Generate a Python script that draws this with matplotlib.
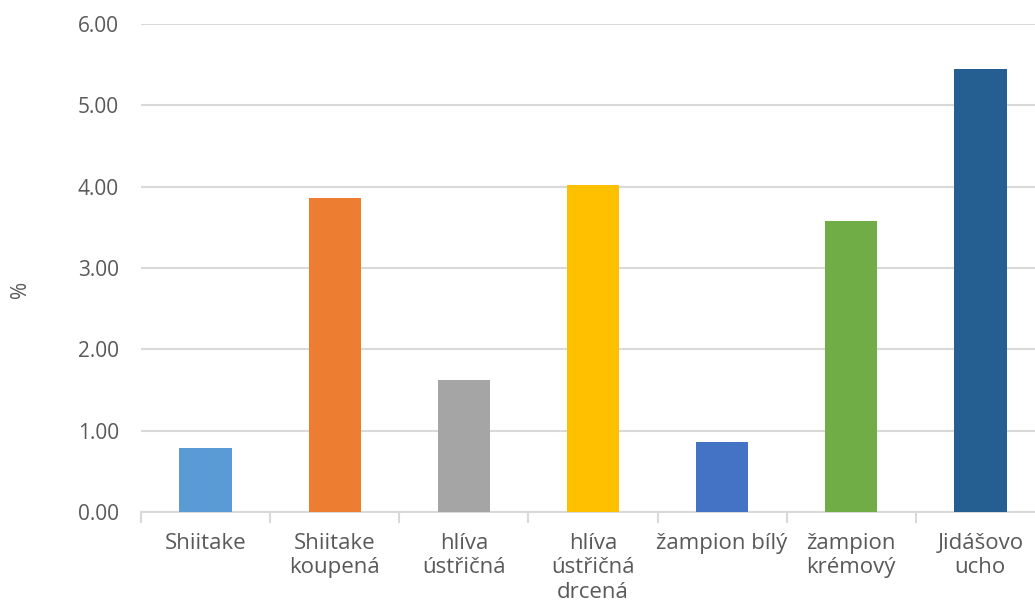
import matplotlib.pyplot as plt
from matplotlib.ticker import FixedLocator, NullFormatter

# mushroom samples and measured content (%)
categories = ['Shiitake', 'Shiitake\nkoupená', 'hlíva\nústřičná', 'hlíva\nústřičná\ndrcená',
              'žampion bílý', 'žampion\nkrémový', 'Jidášovo\nucho']
values = [0.79, 3.86, 1.62, 4.02, 0.86, 3.58, 5.45]
colors = ['#5B9BD5', '#ED7D31', '#A5A5A5', '#FFC000', '#4472C4', '#70AD47', '#255E91']
y_ticks = [0, 1, 2, 3, 4, 5, 6]

plt.rcParams['font.family'] = ['Open Sans', 'DejaVu Sans']
text_color = '#595959'
grid_color = '#D9D9D9'
fs = 15

fig = plt.figure(figsize=(10.35, 6.09), dpi=100)
ax = fig.add_axes([0.1362, 0.1593, 0.8734, 0.8013])

x = range(len(categories))
ax.bar(x, values, width=0.405, color=colors, zorder=3)

ax.set_xlim(-0.5, len(categories) - 0.5)
ax.set_ylim(0, 6)
ax.set_yticks(y_ticks)
ax.set_yticklabels(['%.2f' % v for v in y_ticks])
ax.yaxis.grid(True, color=grid_color, linewidth=1.5, zorder=0)
ax.tick_params(axis='y', length=0, pad=16, labelsize=fs, labelcolor=text_color)

# category labels centred under bars, tick marks at the category borders
ax.set_xticks(list(x))
ax.set_xticklabels(categories, linespacing=1.22)
ax.tick_params(axis='x', which='major', length=0, pad=15, labelsize=16, labelcolor=text_color)
ax.xaxis.set_minor_locator(FixedLocator([i - 0.5 for i in range(len(categories) + 1)]))
ax.xaxis.set_minor_formatter(NullFormatter())
ax.tick_params(axis='x', which='minor', length=8, width=1.5, color=grid_color)

for side in ['top', 'right', 'left']:
    ax.spines[side].set_visible(False)
ax.spines['bottom'].set_color(grid_color)
ax.spines['bottom'].set_linewidth(1.5)

fig.text(0.02, 0.525, '%', rotation=90, ha='center', va='center', fontsize=fs, color=text_color)

fig.savefig('out.png', dpi=100)
